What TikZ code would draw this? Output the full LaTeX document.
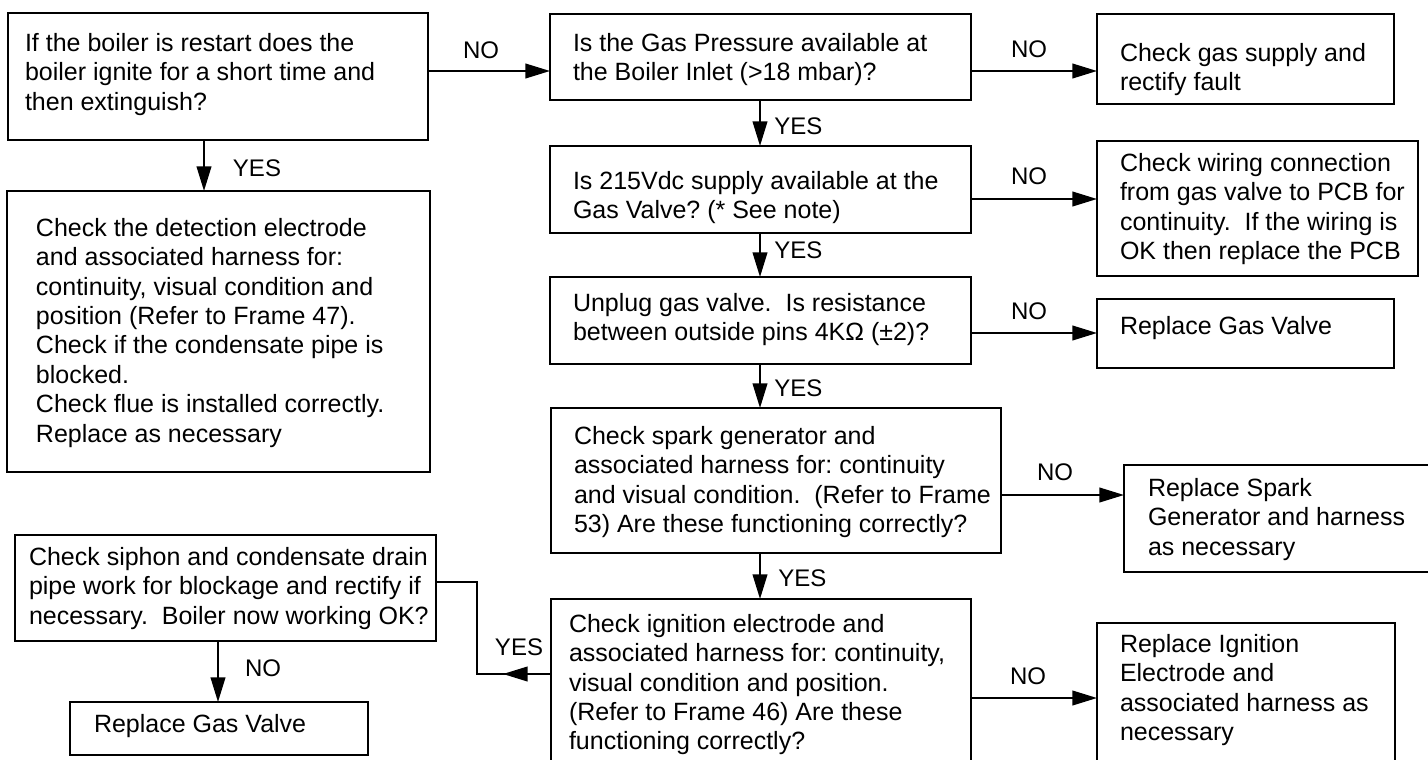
\documentclass[tikz,border=0pt]{standalone}
\usepackage{fontspec}
\setmainfont{Liberation Sans}
\usetikzlibrary{arrows.meta,calc,fit,decorations.markings}
\tikzset{
  box/.style={draw, rectangle, line width=1.5pt, inner sep=0pt, outer sep=0pt},
  txt/.style={anchor=north west, inner sep=0pt, outer sep=0pt, align=left, font=\fontsize{18.75}{22.1}\selectfont},
  lbl/.style={inner sep=0pt, font=\fontsize{18}{21}\selectfont},
  conn/.style={line width=1.5pt, -{Triangle[length=18.5pt,width=11pt]}},
  plainline/.style={line width=1.5pt},
  midtip/.style={postaction={decorate}, decoration={markings, mark=at position 36pt with {\arrow{Triangle[length=18.5pt,width=11pt]}}}}
}
\frenchspacing
\begin{document}
\begin{tikzpicture}[x=0.75pt,y=-0.75pt]
\useasboundingbox (0,0) rectangle (1428,760);
\clip (0,0) rectangle (1428,760);
% boxes
\node[box, fit={(8,13) (428,140)}] (A) {};
\node[box, fit={(7,191) (430,472)}] (Det) {};
\node[box, fit={(550,14) (971,100)}] (B) {};
\node[box, fit={(550,146) (971,233)}] (C) {};
\node[box, fit={(550,277) (971,364)}] (D) {};
\node[box, fit={(1097,14) (1394,104)}] (R1) {};
\node[box, fit={(1097,141) (1418,276)}] (R2) {};
\node[box, fit={(1097,299) (1394,368)}] (R3) {};
\node[box, fit={(551,408) (1001,553)}] (E) {};
\node[box, fit={(1124,465) (1445,572)}] (S) {};
\node[box, fit={(551,599) (971,790)}] (F) {};
\node[box, fit={(1097,623) (1395,790)}] (T) {};
\node[box, fit={(15,535) (436,641)}] (G) {};
\node[box, fit={(70,702) (368,755)}] (H) {};
% texts
\node[txt] (At) at (25,33) {If the boiler is restart does the\\boiler ignite for a short time and\\then extinguish?};
\node[txt] (Dett) at (36,218) {Check the detection electrode\\and associated harness for:\\continuity, visual condition and\\position (Refer to Frame 47).\\Check if the condensate pipe is\\blocked.\\Check flue is installed correctly.\\Replace as necessary};
\node[txt] (Bt) at (573,33) {Is the Gas Pressure available at\\the Boiler Inlet (>18 mbar)?};
\node[txt] (Ct) at (573,171) {Is 215Vdc supply available at the\\Gas Valve? (* See note)};
\node[txt] (Dt) at (573,293) {Unplug gas valve.\ \ Is resistance\\between outside pins 4KΩ (±2)?};
\node[txt] (R1t) at (1120,43) {Check gas supply and\\rectify fault};
\node[txt] (R2t) at (1120,153) {Check wiring connection\\from gas valve to PCB for\\continuity.\ \ If the wiring is\\OK then replace the PCB};
\node[txt] (R3t) at (1120,316) {Replace Gas Valve};
\node[txt] (Et) at (574,426) {Check spark generator and\\associated harness for: continuity\\and visual condition.\ \ (Refer to Frame\\53) Are these functioning correctly?};
\node[txt] (St) at (1148,478) {Replace Spark\\Generator and harness\\as necessary};
\node[txt] (Ft) at (569,614) {Check ignition electrode and\\associated harness for: continuity,\\visual condition and position.\\(Refer to Frame 46) Are these\\functioning correctly?};
\node[txt] (Tt) at (1120,634) {Replace Ignition\\Electrode and\\associated harness as\\necessary};
\node[txt] (Gt) at (29,547) {Check siphon and condensate drain\\pipe work for blockage and rectify if\\necessary.\ \ Boiler now working OK?};
\node[txt] (Ht) at (94,714) {Replace Gas Valve};
% connectors
\draw[conn] ($(A.north east)+(0,58)$) -- ($(B.north west)+(0,57)$);
\draw[conn] ($(A.south west)+(196,0)$) -- ($(Det.north west)+(197,0)$);
\draw[conn] ($(B.north east)+(0,57)$) -- ($(R1.north west)+(0,57)$);
\draw[conn] ($(B.south west)+(210,0)$) -- ($(C.north west)+(210,0)$);
\draw[conn] ($(C.north east)+(0,53)$) -- ($(R2.north west)+(0,58)$);
\draw[conn] ($(C.south west)+(210,0)$) -- ($(D.north west)+(210,0)$);
\draw[conn] ($(D.north east)+(0,56)$) -- ($(R3.north west)+(0,34)$);
\draw[conn] ($(D.south west)+(210,0)$) -- ($(E.north west)+(209,0)$);
\draw[conn] ($(E.north east)+(0,87)$) -- ($(S.north west)+(0,30)$);
\draw[conn] ($(E.south west)+(209,0)$) -- ($(F.north west)+(209,0)$);
\draw[conn] ($(F.north east)+(0,99)$) -- ($(T.north west)+(0,75)$);
\coordinate (fy) at ($(F.north west)+(0,75)$);
\coordinate (gy) at ($(G.north east)+(0,47)$);
\draw[plainline, midtip] (fy) -- ++(-74,0) |- (gy);
\draw[conn] ($(G.south west)+(203,0)$) -- ($(H.north west)+(148,0)$);
% labels
\node[lbl] (noAB) at (481,50) {NO};
\node[lbl] (yesAD) at (257,168) {YES};
\node[lbl, anchor=west] (yesBC) at (774,126) {YES};
\node[lbl, anchor=west] (yesCD) at (774,250) {YES};
\node[lbl, anchor=west] (yesDE) at (774,388) {YES};
\node[lbl, anchor=west] (yesEF) at (778,578) {YES};
\node[lbl] (noBR) at (1029,49) {NO};
\node[lbl] (noCR) at (1029,176) {NO};
\node[lbl] (noDR) at (1029,311) {NO};
\node[lbl] (noES) at (1055,472) {NO};
\node[lbl] (noFT) at (1028,676) {NO};
\node[lbl] (yesFG) at (519,647) {YES};
\node[lbl] (noGH) at (263,668) {NO};
\end{tikzpicture}
\end{document}
